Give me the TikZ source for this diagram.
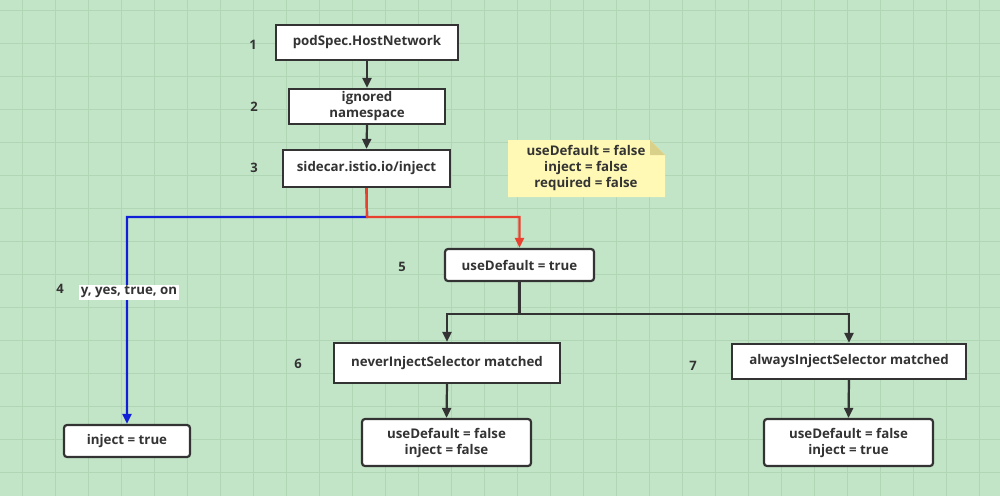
\documentclass[tikz,border=0pt]{standalone}
\usepackage{fontspec}
\setmainfont{Open Sans}
\usetikzlibrary{arrows.meta,positioning}
\definecolor{bg}{HTML}{C3E5C7}
\definecolor{gridc}{HTML}{B1D6B6}
\definecolor{ink}{HTML}{333333}
\definecolor{notey}{HTML}{FFF9B5}
\definecolor{notefold}{HTML}{D9D08A}
\definecolor{redl}{HTML}{E8412F}
\definecolor{bluel}{HTML}{1020D8}
\begin{document}
\begin{tikzpicture}[x=1pt,y=-1pt,
  every node/.style={font=\bfseries\fontsize{13.3}{16}\selectfont, text=ink},
  sq/.style={draw=ink, line width=2.2pt, fill=white, inner sep=0pt, align=center},
  rnd/.style={sq, rounded corners=3pt},
  num/.style={font=\bfseries\fontsize{13}{15}\selectfont},
  arr/.style={draw=ink, line width=2.2pt, -{Triangle[length=10pt,width=9pt]}},
  ln/.style={draw=ink, line width=2.2pt}]
\useasboundingbox (0,0) rectangle (1000,496);
\fill[bg] (0,0) rectangle (1000,496);
\foreach \x in {22,55,...,1000} \draw[gridc, line width=0.6pt] (\x,0) -- (\x,496);
\foreach \y in {10,43,...,496} \draw[gridc, line width=0.6pt] (0,\y) -- (1000,\y);

% nodes
\node[sq, minimum width=182pt, minimum height=35pt] (n1) at (367,42.5) {podSpec.HostNetwork};
\node[sq, minimum width=156pt, minimum height=35pt] (n2) at (367,106.5) {ignored\\namespace};
\node[sq, minimum width=167pt, minimum height=37pt] (n3) at (366.5,168.5) {sidecar.istio.io/inject};
\node[rnd, minimum width=126pt, minimum height=32pt] (n4) at (127,441) {inject = true};
\node[rnd, minimum width=149pt, minimum height=32pt] (n5) at (519.5,265) {useDefault = true};
\node[sq, minimum width=226pt, minimum height=40pt] (n6) at (447,363) {neverInjectSelector matched};
\node[sq, minimum width=234pt, minimum height=35pt] (n7) at (849,361.5) {alwaysInjectSelector matched};
\node[rnd, minimum width=169pt, minimum height=47pt] (n8) at (446.5,442.5) {useDefault = false\\inject = false};
\node[rnd, minimum width=169pt, minimum height=47pt] (n9) at (848.5,442.5) {useDefault = false\\inject = true};

% number labels
\node[num] (l1) at (253,45) {1};
\node[num] (l2) at (254,107) {2};
\node[num] (l3) at (254,168) {3};
\node[num] (l4) at (60,289) {4};
\node[num] (l5) at (402,267) {5};
\node[num] (l6) at (298,364) {6};
\node[num] (l7) at (693,366) {7};

% note
\fill[notey] (508,140) -- (650,140) -- (665,155) -- (665,197) -- (508,197) -- cycle;
\fill[notefold] (650,140) -- (650,155) -- (665,155) -- cycle;
\node[align=center] (note) at (586,168) {useDefault = false\\inject = false\\required = false};

% connectors
\draw[arr] (n1.south) -- (n2.north);
\draw[arr] (n2.south) -- (n3.north);
\coordinate (split) at (367,217);
\draw[bluel, line width=2.2pt, -{Triangle[length=10pt,width=9pt]}] (n3.south) -- (split) -| (n4.north);
\draw[redl, line width=2.2pt, -{Triangle[length=10pt,width=9pt]}] (n3.south) -- (split) -| (n5.north);
\node[fill=white, inner sep=1.5pt] (lab4) at (129,292) {y, yes, true, on};
\coordinate (split2) at (519.5,314);
\draw[ln] (n5.south) -- (split2);
\draw[arr] (split2) -| (n6.north);
\draw[arr] (split2) -| (n7.north);
\draw[arr] (n6.south) -- (n8.north);
\draw[arr] (n7.south) -- (n9.north);
\end{tikzpicture}
\end{document}
